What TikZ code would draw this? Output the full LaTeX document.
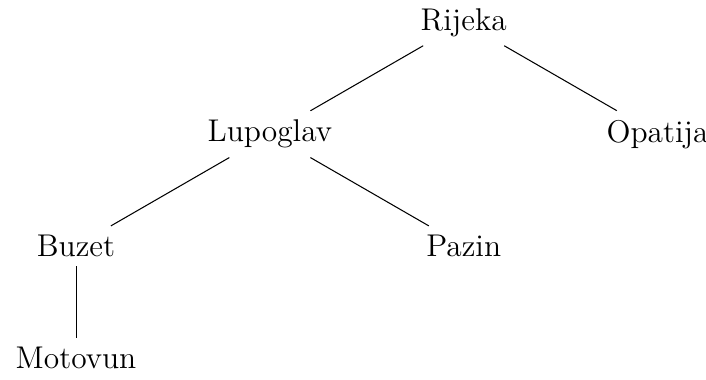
\documentclass[tikz,border=0pt]{standalone}
\usepackage{tikz}

\begin{document}
\begin{tikzpicture}[every node/.style={font=\large}]
\useasboundingbox (-6.22,0.30) rectangle (3.25,-4.79);
% towns
\node (rijeka) at (0,0) {Rijeka};
\node (lupoglav) at (-2.6,-1.5) {Lupoglav};
\node (opatija) at (2.6,-1.5) {Opatija};
\node (buzet) at (-5.2,-3) {Buzet};
\node (pazin) at (0,-3) {Pazin};
\node (motovun) at (-5.2,-4.5) {Motovun};
% roads
\draw (rijeka)--(lupoglav);
\draw (rijeka)--(opatija);
\draw (lupoglav)--(buzet);
\draw (lupoglav)--(pazin);
\draw (buzet)--(motovun);
\end{tikzpicture}
\end{document}
